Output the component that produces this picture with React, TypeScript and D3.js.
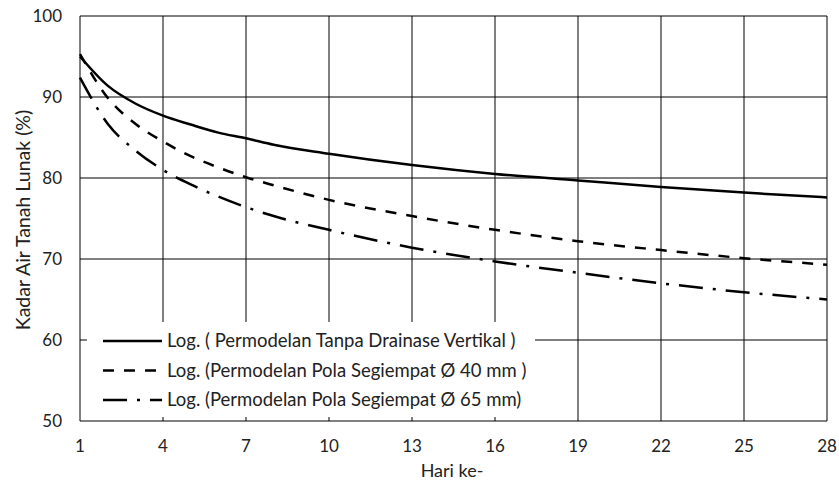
import React from 'react';
import { scaleLinear, line, curveMonotoneX } from 'd3';

// days, plus extra points near the steep start
const days = [1, 2, 3, 4, 5, 6, 7, 8, 10, 13, 16, 19, 22, 25, 28];
const tanpaDrainase = [95.0, 91.4, 89.2, 87.7, 86.6, 85.6, 84.9, 84.1, 83.0, 81.6, 80.5, 79.7, 78.9, 78.2, 77.6];
const segiempat40 = [95.3, 89.9, 86.7, 84.5, 82.7, 81.3, 80.1, 79.1, 77.3, 75.3, 73.6, 72.2, 71.1, 70.1, 69.3];
const segiempat65 = [92.4, 86.7, 83.4, 81.0, 79.2, 77.7, 76.4, 75.3, 73.6, 71.4, 69.7, 68.3, 67.0, 65.9, 65.0];

const xTicks = [1, 4, 7, 10, 13, 16, 19, 22, 25, 28];
const yTicks = [50, 60, 70, 80, 90, 100];

const legendLabels = [
  'Log. ( Permodelan Tanpa Drainase Vertikal )',
  'Log. (Permodelan Pola Segiempat Ø 40 mm )',
  'Log. (Permodelan Pola Segiempat Ø 65 mm)',
];
const dashes = ['none', '11 10', '24 10 3 10'];

const W = 839;
const H = 483;
const FONT = 'Lato, "Open Sans", sans-serif';
const INK = '#222';

export default function App() {
  const x = scaleLinear().domain([1, 28]).range([80, 827]);
  const y = scaleLinear().domain([50, 100]).range([421, 16]);

  const series = [tanpaDrainase, segiempat40, segiempat65];
  const path = line<number>()
    .x((d, i) => x(days[i]))
    .y((d) => y(d))
    .curve(curveMonotoneX);

  return (
    <svg width={W} height={H} style={{ position: 'absolute', left: 0, top: 0, background: '#fff' }}>
      <rect width={W} height={H} fill="#fff" />
      {/* grid */}
      {xTicks.map((t) => (
        <line key={'gx' + t} x1={x(t)} x2={x(t)} y1={y(100)} y2={y(50)} stroke="#000" strokeWidth={1} />
      ))}
      {yTicks.map((t) => (
        <line key={'gy' + t} x1={x(1)} x2={x(28)} y1={y(t)} y2={y(t)} stroke="#000" strokeWidth={1} />
      ))}

      {/* curves */}
      {series.map((s, i) => (
        <path key={'s' + i} d={path(s) || ''} fill="none" stroke="#000" strokeWidth={2.5} strokeDasharray={dashes[i]} />
      ))}

      {/* legend box covers the grid */}
      <rect x={87} y={322} width={448} height={95} fill="#fff" />
      {legendLabels.map((lab, i) => {
        const ly = 341 + i * 29.5;
        return (
          <g key={'lg' + i}>
            <line x1={103} x2={162} y1={ly} y2={ly} stroke="#000" strokeWidth={2.5} strokeDasharray={dashes[i]} />
            <text x={167} y={ly} dy="0.35em" fontFamily={FONT} fontSize={18.5} fill={INK}>{lab}</text>
          </g>
        );
      })}

      {/* axes labels */}
      {yTicks.map((t) => (
        <text key={'ly' + t} x={62} y={y(t)} dy="0.35em" textAnchor="end" fontFamily={FONT} fontSize={17} fill={INK}>{t}</text>
      ))}
      {xTicks.map((t) => (
        <text key={'lx' + t} x={x(t)} y={446} dy="0.35em" textAnchor="middle" fontFamily={FONT} fontSize={17} fill={INK}>{t}</text>
      ))}
      <text x={452} y={471} dy="0.35em" textAnchor="middle" fontFamily={FONT} fontSize={18} fill={INK}>Hari ke-</text>
      <text transform={`translate(23,220) rotate(-90)`} dy="0.35em" textAnchor="middle" fontFamily={FONT} fontSize={19.5} fill={INK}>Kadar Air Tanah Lunak (%)</text>
    </svg>
  );
}
